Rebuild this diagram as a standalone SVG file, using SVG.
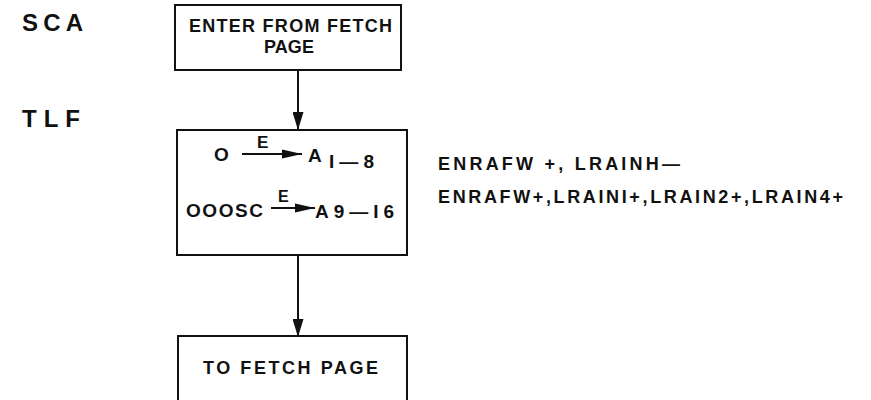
<svg xmlns="http://www.w3.org/2000/svg" width="871" height="400" viewBox="0 0 871 400">
<style>
text{font-family:"Liberation Sans",Arial,sans-serif;font-weight:bold;fill:#111}
.box{fill:none;stroke:#111;stroke-width:2}
.ln{stroke:#111;stroke-width:2;fill:none}
.t{font-size:18px}
.s{font-size:18px}
.b{font-size:19px}
</style>
<defs>
<marker id="ah" markerWidth="18" markerHeight="11" refX="18" refY="5.5" orient="auto" markerUnits="userSpaceOnUse" viewBox="0 0 18 11">
<path d="M0,0 L18,5.5 L0,11 Z" fill="#111"/>
</marker>
<marker id="ahs" markerWidth="20" markerHeight="10" refX="20" refY="5" orient="auto" markerUnits="userSpaceOnUse" viewBox="0 0 20 10">
<path d="M0,0.5 L20,5 L0,9.5 Z" fill="#111"/>
</marker>
</defs>
<text x="22" y="31" font-size="24" textLength="61" lengthAdjust="spacing">SCA</text>
<text x="22" y="127" font-size="24" textLength="58" lengthAdjust="spacing">TLF</text>
<g id="connectors">
<line class="ln" x1="298" y1="70" x2="298" y2="130" marker-end="url(#ah)"/>
<line class="ln" x1="298" y1="255" x2="298" y2="337" marker-end="url(#ah)"/>
</g>
<g id="enter">
<rect class="box" x="175" y="5" width="226" height="65"/>
<text class="t" x="189" y="32" textLength="203" lengthAdjust="spacing">ENTER FROM FETCH</text>
<text class="t" x="289" y="53" text-anchor="middle" textLength="50" lengthAdjust="spacing">PAGE</text>
</g>
<g id="tlf">
<rect class="box" x="177" y="130" width="230" height="125"/>
<text class="b" x="214" y="161">O</text>
<line class="ln" x1="242" y1="154" x2="302" y2="154" stroke-width="1.6" marker-end="url(#ahs)"/>
<text x="257" y="148" font-size="17">E</text>
<text class="b" x="308" y="162">A</text>
<text class="b" x="329" y="168" textLength="45" lengthAdjust="spacing">I—8</text>
<text class="b" x="186" y="217" textLength="77" lengthAdjust="spacing">OOOSC</text>
<line class="ln" x1="271" y1="208" x2="315" y2="208" stroke-width="1.6" marker-end="url(#ahs)"/>
<text x="278" y="202" font-size="16">E</text>
<text class="b" x="315" y="218" textLength="79" lengthAdjust="spacing">A9—I6</text>
</g>
<g id="signals">
<text class="s" x="438" y="170" textLength="242" lengthAdjust="spacing">ENRAFW +, LRAINH—</text>
<text class="s" x="438" y="203" textLength="405" lengthAdjust="spacing">ENRAFW+,LRAINI+,LRAIN2+,LRAIN4+</text>
</g>
<g id="fetch">
<rect class="box" x="178" y="336" width="229" height="80"/>
<text class="t" x="203" y="374" textLength="175" lengthAdjust="spacing">TO FETCH PAGE</text>
</g>
</svg>
